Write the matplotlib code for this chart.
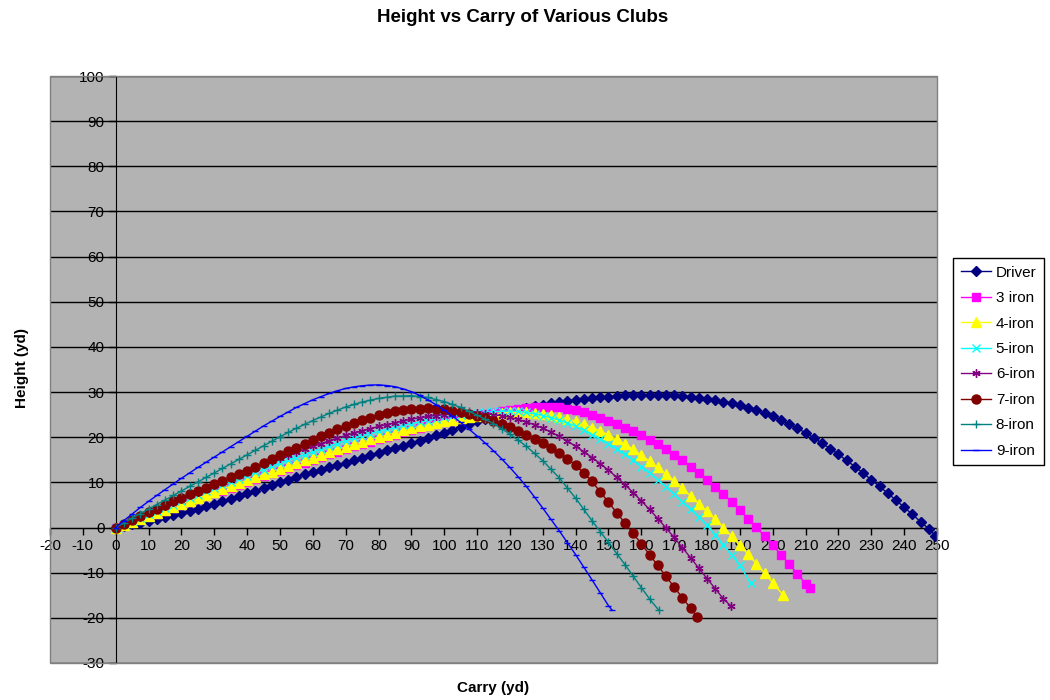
import matplotlib.pyplot as plt
from matplotlib.patches import Rectangle

plt.rcParams['font.family'] = ['Liberation Sans', 'DejaVu Sans']
plt.rcParams['axes.unicode_minus'] = False

clubs = ["Driver", "3 iron", "4-iron", "5-iron", "6-iron", "7-iron", "8-iron", "9-iron"]

# carry positions (yd) shared by all clubs
carry_yd = [0, 2.5, 5, 7.5, 10, 12.5, 15, 17.5, 20, 22.5,
            25, 27.5, 30, 32.5, 35, 37.5, 40, 42.5, 45, 47.5,
            50, 52.5, 55, 57.5, 60, 62.5, 65, 67.5, 70, 72.5,
            75, 77.5, 80, 82.5, 85, 87.5, 90, 92.5, 95, 97.5,
            100, 102.5, 105, 107.5, 110, 112.5, 115, 117.5, 120, 122.5,
            125, 127.5, 130, 132.5, 135, 137.5, 140, 142.5, 145, 147.5,
            150, 152.5, 155, 157.5, 160, 162.5, 165, 167.5, 170, 172.5,
            175, 177.5, 180, 182.5, 185, 187.5, 190, 192.5, 195, 197.5,
            200, 202.5, 205, 207.5, 210, 212.5, 215, 217.5, 220, 222.5,
            225, 227.5, 230, 232.5, 235, 237.5, 240, 242.5, 245, 247.5]

driver_ht = [0, 0.35, 0.7, 1.1, 1.5, 1.9, 2.3, 2.75, 3.2, 3.7,
             4.2, 4.75, 5.3, 5.85, 6.4, 7.0, 7.6, 8.2, 8.8, 9.4,
             10.0, 10.6, 11.2, 11.75, 12.3, 12.8, 13.3, 13.85, 14.4, 14.95,
             15.5, 16.05, 16.6, 17.1, 17.6, 18.15, 18.7, 19.25, 19.8, 20.4,
             21.0, 21.6, 22.2, 22.85, 23.5, 24.1, 24.7, 25.2, 25.7, 26.1,
             26.5, 26.85, 27.2, 27.5, 27.8, 28.05, 28.3, 28.5, 28.7, 28.85,
             29.0, 29.15, 29.3, 29.35, 29.4, 29.4, 29.4, 29.35, 29.3, 29.15,
             29.0, 28.75, 28.5, 28.2, 27.9, 27.5, 27.1, 26.55, 26.0, 25.3,
             24.6, 23.75, 22.9, 21.95, 21.0, 19.85, 18.7, 17.45, 16.2, 14.85,
             13.5, 12.05, 10.6, 9.1, 7.6, 6.05, 4.5, 2.9, 1.3, -0.3]
iron3_ht = [0, 0.6, 1.25, 1.9, 2.5, 3.1, 3.75, 4.4, 5.0, 5.65,
            6.3, 6.95, 7.6, 8.2, 8.85, 9.5, 10.1, 10.7, 11.35, 12.0,
            12.6, 13.2, 13.8, 14.4, 15.0, 15.6, 16.2, 16.8, 17.4, 17.95,
            18.5, 19.0, 19.5, 20.05, 20.6, 21.1, 21.6, 22.0, 22.4, 22.85,
            23.3, 23.7, 24.1, 24.45, 24.8, 25.1, 25.4, 25.7, 26.0, 26.25,
            26.5, 26.65, 26.7, 26.7, 26.6, 26.35, 26.0, 25.55, 25.0, 24.35,
            23.6, 22.85, 22.1, 21.3, 20.4, 19.45, 18.4, 17.3, 16.1, 14.85,
            13.5, 12.1, 10.6, 9.05, 7.4, 5.7, 3.9, 2.0, 0.1, -1.9,
            -3.9, -6.0, -8.1, -10.25, -12.4]
iron4_ht = [0, 0.65, 1.3, 1.95, 2.6, 3.25, 3.9, 4.55, 5.2, 5.9,
            6.55, 7.2, 7.9, 8.55, 9.2, 9.85, 10.5, 11.1, 11.75, 12.4,
            13.0, 13.6, 14.25, 14.9, 15.5, 16.1, 16.7, 17.3, 17.9, 18.45,
            19.0, 19.5, 20.0, 20.5, 21.0, 21.5, 22.0, 22.4, 22.8, 23.2,
            23.6, 23.9, 24.2, 24.5, 24.8, 25.0, 25.2, 25.35, 25.5, 25.55,
            25.5, 25.4, 25.2, 24.9, 24.5, 24.05, 23.5, 22.85, 22.1, 21.35,
            20.5, 19.55, 18.5, 17.3, 16.0, 14.7, 13.3, 11.85, 10.3, 8.7,
            7.0, 5.3, 3.6, 1.8, 0.0, -1.95, -3.9, -5.95, -8.0, -10.1,
            -12.2]
iron5_ht = [0, 0.7, 1.45, 2.2, 2.9, 3.6, 4.35, 5.1, 5.8, 6.5,
            7.25, 8.0, 8.7, 9.4, 10.1, 10.8, 11.5, 12.2, 12.85, 13.55,
            14.2, 14.85, 15.5, 16.15, 16.8, 17.4, 18.0, 18.6, 19.2, 19.75,
            20.3, 20.8, 21.3, 21.75, 22.2, 22.6, 23.0, 23.35, 23.7, 24.05,
            24.4, 24.65, 24.9, 25.15, 25.4, 25.55, 25.7, 25.75, 25.8, 25.7,
            25.5, 25.2, 24.8, 24.35, 23.8, 23.15, 22.4, 21.55, 20.6, 19.6,
            18.6, 17.45, 16.2, 14.9, 13.5, 12.1, 10.6, 9.05, 7.4, 5.7,
            4.0, 2.25, 0.5, -1.65, -3.9, -6.1, -8.4]
iron6_ht = [0, 0.8, 1.6, 2.4, 3.2, 4.0, 4.8, 5.6, 6.4, 7.2,
            7.95, 8.7, 9.5, 10.3, 11.05, 11.85, 12.6, 13.3, 14.0, 14.7,
            15.4, 16.05, 16.7, 17.35, 18.0, 18.6, 19.2, 19.8, 20.4, 20.9,
            21.4, 21.9, 22.4, 22.8, 23.2, 23.6, 24.0, 24.3, 24.6, 24.8,
            25.0, 25.15, 25.3, 25.35, 25.3, 25.2, 25.0, 24.75, 24.4, 23.95,
            23.4, 22.75, 22.0, 21.15, 20.2, 19.15, 18.0, 16.8, 15.5, 14.15,
            12.7, 11.15, 9.5, 7.75, 5.9, 4.0, 2.0, -0.1, -2.2, -4.45,
            -6.7, -9.0, -11.3, -13.55, -15.8]
iron7_ht = [0, 0.85, 1.7, 2.55, 3.4, 4.2, 5.0, 5.8, 6.6, 7.35,
            8.1, 8.85, 9.6, 10.35, 11.1, 11.85, 12.6, 13.45, 14.3, 15.15,
            16.0, 16.85, 17.7, 18.55, 19.4, 20.2, 21.0, 21.75, 22.5, 23.15,
            23.8, 24.35, 24.9, 25.3, 25.7, 25.95, 26.2, 26.3, 26.4, 26.3,
            26.2, 25.9, 25.6, 25.15, 24.7, 24.15, 23.6, 22.9, 22.2, 21.4,
            20.6, 19.65, 18.7, 17.65, 16.6, 15.2, 13.8, 12.0, 10.2, 7.9,
            5.6, 3.3, 1.0, -1.3, -3.6, -6.0, -8.4, -10.8, -13.2, -15.55,
            -17.9]
iron8_ht = [0, 1.05, 2.1, 3.1, 4.1, 5.1, 6.1, 7.1, 8.1, 9.1,
            10.1, 11.1, 12.1, 13.1, 14.1, 15.1, 16.1, 17.1, 18.1, 19.1,
            20.1, 21.05, 22.0, 22.85, 23.7, 24.5, 25.3, 26.0, 26.7, 27.25,
            27.8, 28.2, 28.6, 28.85, 29.1, 29.15, 29.2, 29.0, 28.8, 28.35,
            27.9, 27.25, 26.6, 25.75, 24.9, 23.95, 23.0, 21.85, 20.7, 19.35,
            18.0, 16.4, 14.8, 12.9, 11.0, 8.75, 6.5, 4.0, 1.5, -0.9,
            -3.3, -5.75, -8.2, -10.75, -13.3, -15.8]
iron9_ht = [0, 1.55, 3.0, 4.45, 5.8, 7.1, 8.4, 9.65, 10.9, 12.1,
            13.3, 14.45, 15.6, 16.75, 17.9, 19.05, 20.2, 21.35, 22.5, 23.55,
            24.6, 25.6, 26.6, 27.45, 28.3, 29.0, 29.7, 30.3, 30.8, 31.15,
            31.4, 31.55, 31.6, 31.45, 31.2, 30.7, 30.1, 29.25, 28.3, 27.2,
            26.0, 24.7, 23.3, 21.8, 20.3, 18.7, 17.0, 15.2, 13.3, 11.25,
            9.1, 6.75, 4.3, 1.8, -0.7, -3.35, -6.0, -8.8, -11.6, -14.45,
            -17.3]

# last recorded point of each flight
end_carry = [249.5, 211.2, 203.2, 193.3, 187.3, 177, 165.3, 151]
end_height = [-1.8, -13.3, -15.0, -12.3, -17.4, -19.8, -18.3, -18.2]

heights = [driver_ht, iron3_ht, iron4_ht, iron5_ht, iron6_ht, iron7_ht, iron8_ht, iron9_ht]
colors = ["#000080", "#ff00ff", "#ffff00", "#00ffff", "#800080", "#800000", "#008080", "#0000ff"]
markers = ["D", "s", "^", "x", (6, 2, 0), "o", "+", "_"]
msizes = [5.5, 5.5, 7, 5.5, 6, 6.5, 6, 5]

fig = plt.figure(figsize=(10.5, 7), dpi=100)
ax = fig.add_axes([50 / 1050, 37 / 700, 887 / 1050, 587 / 700])
ax.set_facecolor("#b3b3b3")

for name, ys, xe, ye, c, m, ms in zip(clubs, heights, end_carry, end_height, colors, markers, msizes):
    xs = carry_yd[:len(ys)] + [xe]
    ax.plot(xs, ys + [ye], color=c, lw=1, marker=m, markersize=ms,
            markerfacecolor=c, markeredgecolor=c, markeredgewidth=1, label=name)

ax.set_xlim(-20, 250)
ax.set_ylim(-30, 100)
ax.set_xticks(range(-20, 251, 10))
ax.set_yticks(range(-30, 101, 10))
ax.yaxis.grid(True, color="black", lw=1)
ax.set_axisbelow(True)

for s in ["top", "right"]:
    ax.spines[s].set_visible(False)
ax.spines["left"].set_position(("data", 0))
ax.spines["bottom"].set_position(("data", 0))
ax.spines["left"].set_zorder(1.5)
ax.spines["bottom"].set_zorder(1.5)
ax.tick_params(direction="out", length=5, width=1, labelsize=11, pad=3)

ax.add_patch(Rectangle((0, 0), 1, 1, transform=ax.transAxes, fill=False,
                       edgecolor="#808080", lw=1, clip_on=False, zorder=3))

fig.text(523 / 1050, 1 - 17 / 700, "Height vs Carry of Various Clubs",
         ha="center", va="center", fontsize=13.5, fontweight="bold")
fig.text(493 / 1050, 1 - 688 / 700, "Carry (yd)", ha="center", va="center",
         fontsize=11, fontweight="bold")
fig.text(22 / 1050, 1 - 368 / 700, "Height (yd)", ha="center", va="center",
         rotation=90, fontsize=11, fontweight="bold")

leg = fig.legend(loc="upper left", bbox_to_anchor=(953 / 1050, 1 - 258 / 700),
                 fontsize=11, frameon=True, fancybox=False, edgecolor="black",
                 framealpha=1, handlelength=2.0, handletextpad=0.3,
                 labelspacing=0.75, borderpad=0.5, borderaxespad=0)
leg.get_frame().set_linewidth(1)

fig.savefig("out.png", dpi=100)
